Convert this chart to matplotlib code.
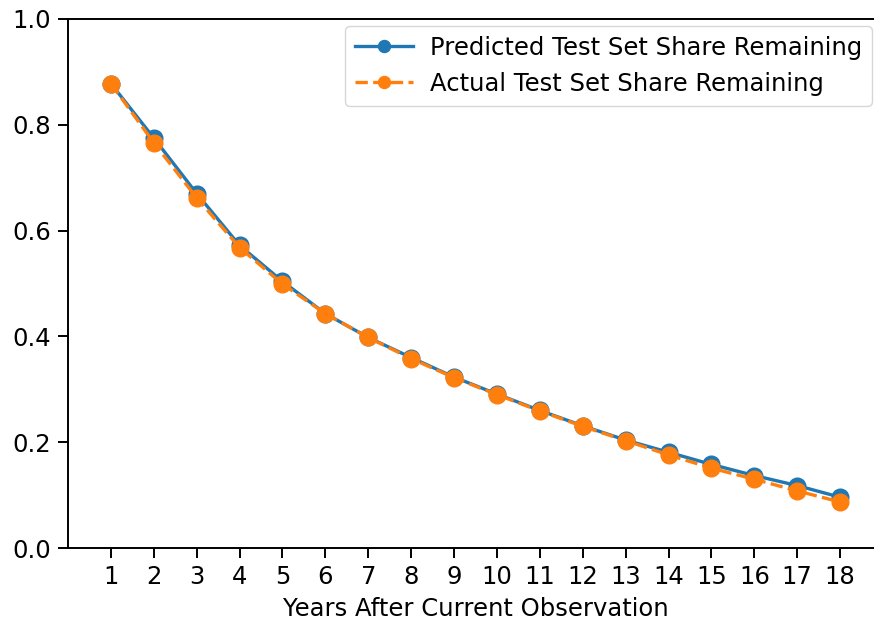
import matplotlib
matplotlib.use("Agg")
import matplotlib.pyplot as plt

years = list(range(1, 19))
predicted = [0.878, 0.775, 0.670, 0.572, 0.504, 0.443, 0.398, 0.360, 0.323,
             0.291, 0.260, 0.231, 0.204, 0.181, 0.158, 0.137, 0.118, 0.096]
actual = [0.878, 0.766, 0.662, 0.568, 0.499, 0.443, 0.398, 0.358, 0.322,
          0.290, 0.259, 0.230, 0.203, 0.176, 0.151, 0.130, 0.108, 0.087]
xlabel = "Years After Current Observation"
labels = ["Predicted Test Set Share Remaining", "Actual Test Set Share Remaining"]

fs = 17.5
fig = plt.figure(figsize=(8.74, 6.22), dpi=100)
ax = fig.add_axes([68/874, 1 - 548/622, (883-68)/874, (548-19)/622])
ax.plot(years, predicted, '-o', color='#1f77b4', lw=2.4, ms=12, label=labels[0])
ax.plot(years, actual, '--o', color='#ff7f0e', lw=2.4, ms=12, label=labels[1])
ax.set_xlim(0, 19)
ax.set_ylim(0, 1.0)
ax.set_xticks(years)
ax.set_yticks([0.0, 0.2, 0.4, 0.6, 0.8, 1.0])
ax.tick_params(labelsize=fs, length=7, width=1.4, pad=5)
for s in ax.spines.values():
    s.set_linewidth(1.4)
ax.spines['right'].set_visible(False)
ax.set_xlabel(xlabel, fontsize=fs, labelpad=6)
ax.legend(fontsize=fs, loc='upper right', markerscale=0.72,
          bbox_to_anchor=((872-68)/(883-68), (548-26)/529),
          borderaxespad=0, handletextpad=0.7, handlelength=2.4)
fig.savefig("out.png", dpi=100)
